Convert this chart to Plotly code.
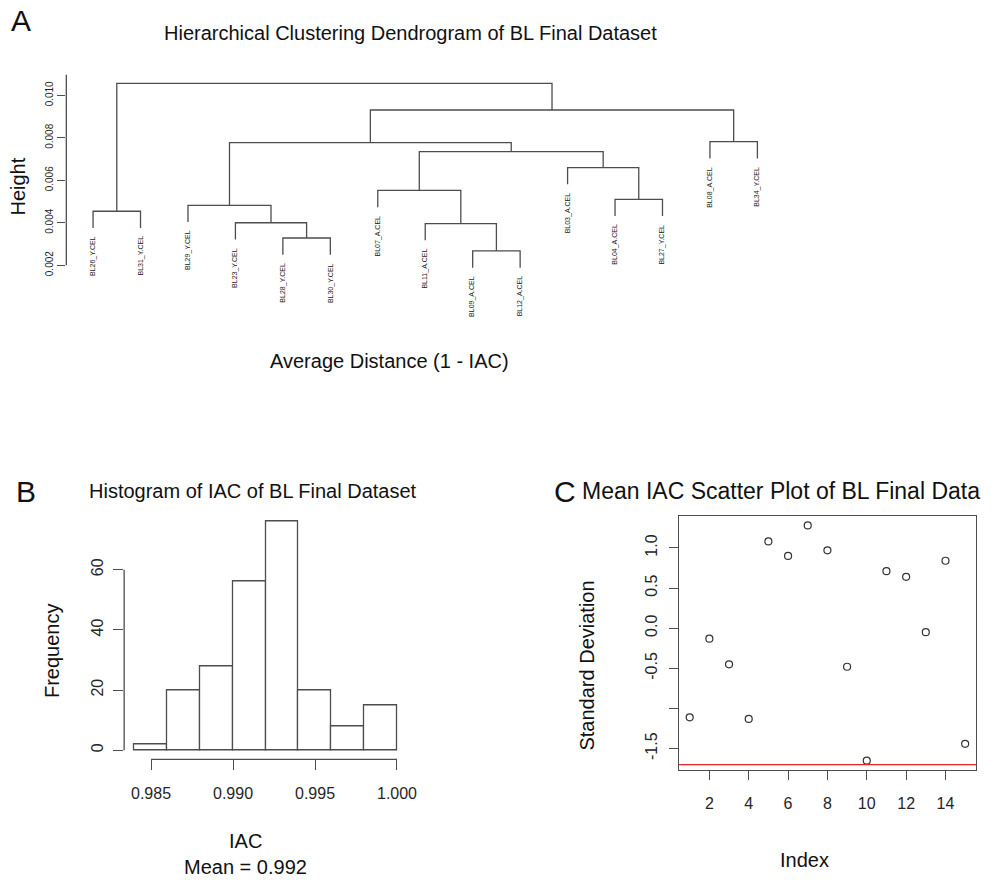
import plotly.graph_objects as go

W, H = 1003, 884
FONT = "Liberation Sans, Arial, sans-serif"
INK = "#4d4d4d"
TXT = "#262626"

# ---------------- data ----------------
# Panel A: dendrogram (leaf order as drawn, merges in hclust style)
leaf_labels = ["BL26_Y.CEL", "BL31_Y.CEL", "BL29_Y.CEL", "BL23_Y.CEL", "BL28_Y.CEL",
               "BL30_Y.CEL", "BL07_A.CEL", "BL11_A.CEL", "BL09_A.CEL", "BL12_A.CEL",
               "BL03_A.CEL", "BL04_A.CEL", "BL27_Y.CEL", "BL08_A.CEL", "BL34_Y.CEL"]
# negative = leaf (1-based position), positive = earlier merge (1-based)
merge_left = [-5, -4, -3, -1, -9, -8, -7, -12, -11, 7, 3, -14, 11, 4]
merge_right = [-6, 1, 2, -2, -10, 5, 6, -13, 8, 9, 10, -15, 12, 13]
merge_height = [0.00328, 0.00400, 0.00482, 0.00454, 0.00267, 0.00396, 0.00552,
                0.00510, 0.00660, 0.00735, 0.00777, 0.00782, 0.00931, 0.01056]
dendro_ticks = [0.002, 0.004, 0.006, 0.008, 0.010]

# Panel B: histogram of IAC
bin_edges = [0.984, 0.986, 0.988, 0.990, 0.992, 0.994, 0.996, 0.998, 1.000]
bin_counts = [2, 20, 28, 56, 76, 20, 8, 15]
hist_xticks = [0.985, 0.990, 0.995, 1.000]
hist_yticks = [0, 20, 40, 60]

# Panel C: mean IAC scatter
sample_index = list(range(1, 16))
sd_values = [-1.11, -0.13, -0.45, -1.13, 1.08, 0.90, 1.28, 0.97, -0.48, -1.65,
             0.71, 0.64, -0.05, 0.84, -1.44]
sd_threshold = -1.70
scat_xticks = [2, 4, 6, 8, 10, 12, 14]
scat_yticks = [-1.5, -1.0, -0.5, 0.0, 0.5, 1.0]
scat_yticktext = ["-1.5", "", "-0.5", "0.0", "0.5", "1.0"]


def xd(p0, p1):
    return [p0 / W, p1 / W]


def yd(top, bottom):
    return [1 - bottom / H, 1 - top / H]


fig = go.Figure()

# ---------------- Panel A ----------------
hang = 0.1 * (max(merge_height) - min(merge_height))
node_x, node_y = {}, {}
leaf_end = {}
for k, (l, r, h) in enumerate(zip(merge_left, merge_right, merge_height), start=1):
    xs = []
    for c in (l, r):
        if c < 0:
            xs.append(-c)
            leaf_end[-c] = h - hang
        else:
            xs.append(node_x[c])
    node_x[k] = (xs[0] + xs[1]) / 2
    node_y[k] = h

lx, ly = [], []
for k, (l, r, h) in enumerate(zip(merge_left, merge_right, merge_height), start=1):
    pts = []
    for c in (l, r):
        if c < 0:
            pts.append((-c, leaf_end[-c]))
        else:
            pts.append((node_x[c], node_y[c]))
    (x1, y1), (x2, y2) = pts
    lx += [x1, x1, x2, x2, None]
    ly += [y1, h, h, y2, None]

fig.add_trace(go.Scatter(x=lx, y=ly, mode="lines", line=dict(color=INK, width=1.3),
                         xaxis="x", yaxis="y", hoverinfo="skip", showlegend=False))

sp = 47.93
xA0, xA1 = 67, 790
xa_range = [1 - (94 - xA0) / sp, 1 + (xA1 - 94) / sp]
pxv = 42.75 / 0.002  # px per unit


def vA(py):
    return 0.002 + (267 - py) / pxv


ya_range = [vA(272), vA(75)]

annotations = []
for i, lab in enumerate(leaf_labels, start=1):
    annotations.append(dict(x=i, y=leaf_end[i], xref="x", yref="y", text=lab,
                            textangle=-90, showarrow=False, xanchor="center",
                            yanchor="top", yshift=-6,
                            font=dict(family=FONT, size=7, color="#1a1a1a")))

# ---------------- Panel B ----------------
centers = [(a + b) / 2 for a, b in zip(bin_edges[:-1], bin_edges[1:])]
widths = [b - a for a, b in zip(bin_edges[:-1], bin_edges[1:])]
fig.add_trace(go.Bar(x=centers, y=bin_counts, width=widths,
                     marker=dict(color="white", line=dict(color=INK, width=1.3)),
                     xaxis="x2", yaxis="y2", hoverinfo="skip", showlegend=False))

# ---------------- Panel C ----------------
fig.add_trace(go.Scatter(x=sample_index, y=sd_values, mode="markers",
                         marker=dict(symbol="circle-open", size=7,
                                     color="#333333", line=dict(width=1.2)),
                         xaxis="x3", yaxis="y3", hoverinfo="skip", showlegend=False))

tickfont_small = dict(family=FONT, size=10, color=TXT)
tickfont = dict(family=FONT, size=16, color=TXT)

common_off = dict(showgrid=False, zeroline=False)

fig.update_layout(
    width=W, height=H, margin=dict(l=0, r=0, t=0, b=0),
    plot_bgcolor="white", paper_bgcolor="white", bargap=0,
    xaxis=dict(domain=xd(xA0, xA1), range=xa_range, showticklabels=False,
               ticks="", showline=False, anchor="y", **common_off),
    yaxis=dict(domain=yd(75, 272), range=ya_range, tickvals=dendro_ticks,
               ticktext=["%.3f" % v for v in dendro_ticks], tickangle=-90,
               ticks="outside", ticklen=8, tickwidth=1.3, tickcolor=INK,
               ticklabelstandoff=0, tickfont=tickfont_small, showline=False,
               anchor="x", **common_off),
    xaxis2=dict(domain=xd(125.4, 411.6), range=[0.98336, 1.00064],
                tickvals=hist_xticks, ticktext=["%.3f" % v for v in hist_xticks],
                ticks="outside", ticklen=10, tickwidth=1.3, tickcolor=INK,
                ticklabelstandoff=9, tickfont=tickfont, showline=False,
                anchor="y2", **common_off),
    yaxis2=dict(domain=yd(515.9, 764.6), range=[-3.04, 79.04], tickvals=hist_yticks,
                ticktext=[str(v) for v in hist_yticks], tickangle=-90,
                ticks="outside", ticklen=10, tickwidth=1.3, tickcolor=INK,
                ticklabelstandoff=4, tickfont=tickfont, showline=False,
                anchor="x2", **common_off),
    xaxis3=dict(domain=xd(685.5, 986), range=[0.44, 15.56], tickvals=scat_xticks,
                ticktext=[str(v) for v in scat_xticks],
                ticks="outside", ticklen=9, tickwidth=1.3, tickcolor=INK,
                ticklabelstandoff=10, tickfont=tickfont, showline=True,
                linecolor=INK, linewidth=1.3, mirror=True, anchor="y3", **common_off),
    yaxis3=dict(domain=yd(519.3, 775), range=[-1.763, 1.400], tickvals=scat_yticks,
                ticktext=scat_yticktext, tickangle=-90,
                ticks="outside", ticklen=9, tickwidth=1.3, tickcolor=INK,
                ticklabelstandoff=5, tickfont=tickfont, showline=True,
                linecolor=INK, linewidth=1.3, mirror=True, anchor="x3", **common_off),
)

shapes = [
    # dendrogram y-axis line
    dict(type="line", xref="paper", yref="y", x0=xA0 / W, x1=xA0 / W,
         y0=dendro_ticks[0], y1=vA(75), line=dict(color=INK, width=1.3)),
    # histogram axis lines
    dict(type="line", xref="paper", yref="y2", x0=125.4 / W, x1=125.4 / W,
         y0=hist_yticks[0], y1=hist_yticks[-1], line=dict(color=INK, width=1.3)),
    dict(type="line", xref="x2", yref="paper", x0=hist_xticks[0], x1=hist_xticks[-1],
         y0=1 - 764.6 / H, y1=1 - 764.6 / H, line=dict(color=INK, width=1.3)),
    # threshold line in scatter
    dict(type="line", xref="x3 domain", yref="y3", x0=0, x1=1,
         y0=sd_threshold, y1=sd_threshold, line=dict(color="#ee2222", width=1.3)),
]


def ann(text, px, py, size=20, angle=0, xanchor="center", yanchor="middle"):
    return dict(text=text, x=px / W, y=1 - py / H, xref="paper", yref="paper",
                showarrow=False, textangle=angle, xanchor=xanchor, yanchor=yanchor,
                font=dict(family=FONT, size=size, color="#111111"))


annotations += [
    ann("A", 9, 21, size=30, xanchor="left"),
    ann("Hierarchical Clustering Dendrogram of BL Final Dataset", 415, 33),
    ann("Height", 18, 188, angle=-90),
    ann("Average Distance (1 - IAC)", 393.5, 363),
    ann("B", 14, 495, size=30, xanchor="left"),
    ann("Histogram of IAC of BL Final Dataset", 256, 494),
    ann("Frequency", 52, 655, angle=-90),
    ann("IAC", 248, 847),
    ann("Mean = 0.992", 248, 873),
    ann("C", 558, 495, size=30, xanchor="left"),
    ann("Mean IAC Scatter Plot of BL Final Data", 586, 494, size=23, xanchor="left"),
    ann("Standard Deviation", 593, 670, angle=-90),
    ann("Index", 813, 866),
]

fig.update_layout(shapes=shapes, annotations=annotations)
fig.write_html("out.html")
